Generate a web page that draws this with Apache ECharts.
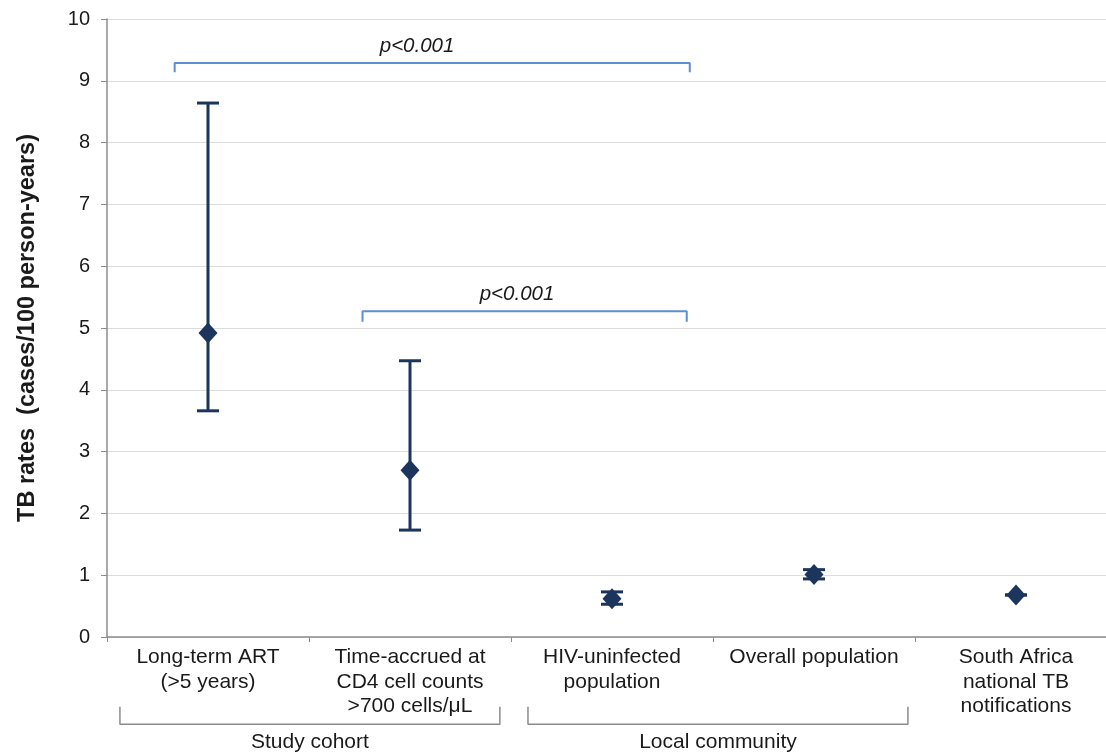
<!DOCTYPE html>
<html><head><meta charset="utf-8">
<script src="https://cdn.jsdelivr.net/npm/echarts@6/dist/echarts.min.js"></script>
<style>html,body{margin:0;padding:0;background:#fff;overflow:hidden;width:1106px;height:752px}#c{width:1117px;height:752px}</style>
</head><body><div id="c"></div>
<script>
const categories = ['Long-term ART\n(>5 years)', 'Time-accrued at\nCD4 cell counts\n>700 cells/μL', 'HIV-uninfected\npopulation', 'Overall population', 'South Africa\nnational TB\nnotifications'];
const rates = [4.92, 2.70, 0.62, 1.01, 0.68];
const lower = [3.66, 1.73, 0.53, 0.94, 0.68];
const upper = [8.64, 4.47, 0.73, 1.09, 0.68];
const yTicks = [0, 1, 2, 3, 4, 5, 6, 7, 8, 9, 10];
// significance brackets: [xStart, xEnd, yTop, yEnd], in category-index units
const pBrackets = [[-0.165, 2.385, 9.29, 9.14], [0.765, 2.37, 5.27, 5.10]];
const pLabels = ['p<0.001', 'p<0.001'];
const pLabelX = [1.035, 1.53];
// group brackets below the axis
const groups = ['Study cohort', 'Local community'];
const groupSpans = [[-0.436, 1.445], [1.584, 3.465]];

const FONT = 'Liberation Sans, Arial, sans-serif';
const NAVY = '#1b355c';
const BLUE = '#5b8fd5';
const TXT = '#1a1a1a';

const series = [];
series.push({
  type: 'custom', xAxisIndex: 0, yAxisIndex: 0, z: 3,
  data: categories.map((c, i) => [i, lower[i], upper[i]]),
  renderItem: function (params, api) {
    const i = api.value(0);
    const lo = api.coord([i, api.value(1)]);
    const hi = api.coord([i, api.value(2)]);
    const hw = 11;
    const st = { stroke: NAVY, lineWidth: 3 };
    return { type: 'group', children: [
      { type: 'line', shape: { x1: lo[0], y1: lo[1], x2: hi[0], y2: hi[1] }, style: st },
      { type: 'line', shape: { x1: lo[0] - hw, y1: lo[1], x2: lo[0] + hw, y2: lo[1] }, style: st },
      { type: 'line', shape: { x1: hi[0] - hw, y1: hi[1], x2: hi[0] + hw, y2: hi[1] }, style: st }
    ]};
  }
});
series.push({
  type: 'scatter', xAxisIndex: 0, yAxisIndex: 0, z: 4,
  symbol: 'diamond', symbolSize: [19, 21],
  itemStyle: { color: NAVY, opacity: 1 },
  data: rates.map((v, i) => [i, v])
});
pBrackets.forEach((b, k) => {
  series.push({
    type: 'line', xAxisIndex: 1, yAxisIndex: 0, symbol: 'none', z: 2,
    lineStyle: { color: BLUE, width: 2 },
    data: [[b[0], b[3]], [b[0], b[2]], [b[1], b[2]], [b[1], b[3]]]
  });
  series.push({
    type: 'scatter', xAxisIndex: 1, yAxisIndex: 0, symbolSize: 0,
    itemStyle: { opacity: 1 },
    data: [[pLabelX[k], b[2]]],
    label: { show: true, position: 'top', distance: 7, formatter: pLabels[k],
      fontFamily: FONT, fontSize: 20.5, fontStyle: 'italic', color: TXT }
  });
});
groupSpans.forEach((s, k) => {
  series.push({
    type: 'line', xAxisIndex: 1, yAxisIndex: 0, symbol: 'none', clip: false,
    lineStyle: { color: '#8c8c8c', width: 1.5 },
    data: [[s[0], -1.13], [s[0], -1.41], [s[1], -1.41], [s[1], -1.13]]
  });
  series.push({
    type: 'scatter', xAxisIndex: 1, yAxisIndex: 0, symbolSize: 0, clip: false,
    itemStyle: { opacity: 1 },
    data: [[(s[0] + s[1]) / 2, -1.71]],
    label: { show: true, position: 'inside', formatter: groups[k],
      fontFamily: FONT, fontSize: 21, color: TXT }
  });
});

const chart = echarts.init(document.getElementById('c'), null, { renderer: 'canvas' });
chart.setOption({
  animation: false,
  backgroundColor: '#fff',
  grid: { left: 107, top: 19, right: 0, bottom: 115, containLabel: false },
  xAxis: [{
    type: 'category', data: categories, boundaryGap: true,
    axisLine: { lineStyle: { color: '#8c8c8c', width: 1.5 } },
    axisTick: { show: true, length: 5, lineStyle: { color: '#8c8c8c' } },
    axisLabel: { interval: 0, margin: 8, fontFamily: FONT, fontSize: 21, lineHeight: 24.5, color: TXT }
  }, {
    type: 'value', min: -0.5, max: 4.5, show: false
  }],
  yAxis: {
    type: 'value', min: yTicks[0], max: yTicks[yTicks.length - 1], interval: 1,
    name: 'TB rates  (cases/100 person-years)', nameLocation: 'middle', nameGap: 67,
    nameTextStyle: { fontFamily: FONT, fontSize: 23.5, fontWeight: 'bold', color: TXT },
    axisLine: { show: true, onZero: false, lineStyle: { color: '#8c8c8c', width: 1.5 } },
    axisTick: { show: true, length: 6, lineStyle: { color: '#8c8c8c' } },
    axisLabel: { margin: 17, fontFamily: FONT, fontSize: 20, color: TXT },
    splitLine: { show: true, lineStyle: { color: '#dcdcdc', width: 1 } }
  },
  series: series
});
</script></body></html>
